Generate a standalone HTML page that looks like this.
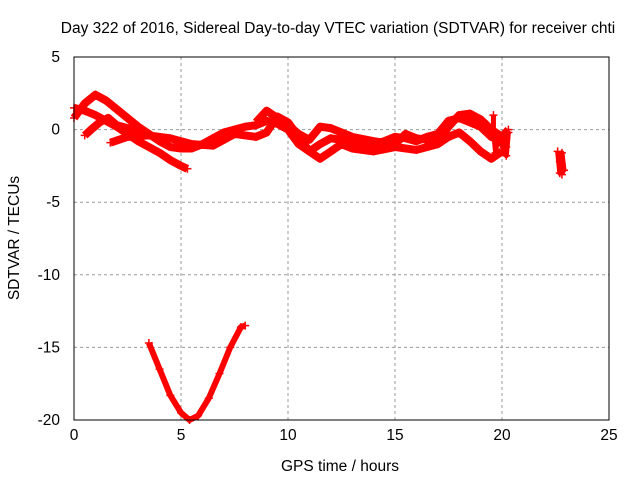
<!DOCTYPE html>
<html><head><meta charset="utf-8"><style>
body{margin:0;background:#fff;width:640px;height:480px;overflow:hidden}
text{font-family:"Liberation Sans",sans-serif;font-size:15.5px;fill:#000}
</style></head><body>
<svg id="chart" width="640" height="480" xmlns="http://www.w3.org/2000/svg">
<text x="338" y="33" text-anchor="middle">Day 322 of 2016, Sidereal Day-to-day VTEC variation (SDTVAR) for receiver chti</text>
<text x="340" y="471" text-anchor="middle">GPS time / hours</text>
<text transform="translate(19,238) rotate(-90)" text-anchor="middle">SDTVAR / TECUs</text>
<g id="grid"></g><g id="marks"></g>
<rect x="74" y="57" width="535" height="363" fill="none" stroke="#000" stroke-width="1"/>
</svg>
<script>
const xTicks=[0,5,10,15,20,25];
const yTicks=[5,0,-5,-10,-15,-20];
const trackDip=[[3.5,-14.7],[4,-16.5],[4.5,-18.3],[5,-19.5],[5.4,-20],[5.8,-19.7],[6.3,-18.5],[6.8,-16.8],[7.3,-15],[7.8,-13.6],[8,-13.5]];
const trackA=[[0,0.8],[0.5,1.8],[1,2.4],[1.5,2],[2,1.4],[2.5,0.8],[3,0.2],[3.5,-0.3],[4,-0.8],[4.5,-1.2],[5,-1.3],[5.5,-1.3],[6,-1.0],[6.5,-0.6],[7,-0.2],[7.5,0],[8,0.2],[8.5,0.3],[9,0.6],[9.5,0.4],[10,0],[10.5,-1],[11,-1.5],[11.5,-1],[12,-0.6],[12.5,-0.7],[13,-0.8],[13.5,-1],[14,-1],[14.5,-0.8],[15,-0.5],[15.5,-0.6],[16,-0.8],[16.5,-0.5],[17,-0.3],[17.5,0.6],[18,0.8],[18.5,0.5],[19,0.2],[19.5,-0.5],[20,-0.8],[20.2,-1.2]];
const trackB=[[0,1.5],[0.5,1.3],[1,1],[1.5,0.6],[2,0.2],[2.5,-0.3],[3,-0.8],[3.5,-1.2],[4,-1.6],[4.5,-2.1],[5,-2.5],[5.3,-2.7]];
const trackC=[[0.5,-0.4],[0.8,0],[1.2,0.5],[1.6,0.8],[2,0.3],[2.5,0.1],[3,-0.2]];
const trackD=[[1.7,-0.9],[2.5,-0.5],[3.5,-0.4],[4.5,-0.6],[5.5,-1],[6.5,-1.1],[7.5,-0.3],[8.5,-0.5],[9,-0.2],[9.5,0.9],[10,0.5],[10.5,-0.5],[11,-1.5],[11.5,-2],[12,-1.5],[12.5,-1],[13,-1.3],[14,-1.5],[15,-1.2],[16,-1.4],[17,-1],[17.5,-0.5],[18,-0.2],[18.5,-0.8],[19,-1.5],[19.5,-2],[20,-1.5]];
const trackE=[[8.5,0.5],[9,1.3],[9.5,0.8],[10,0.3],[10.5,-0.3],[11,-0.7],[11.5,0.2],[12,0.1],[12.5,-0.2],[13,-0.5],[14,-0.8],[15,-1.0],[15.5,-0.3],[16,-0.6],[17,-0.8],[17.5,0.2],[18,1],[18.5,1.1],[19,0.7],[19.5,0],[20,-0.5],[20.3,0]];
const trackF=[[19.6,1.0],[19.6,0],[19.7,-1.6],[19.8,-0.5],[20.2,-1.8],[20.3,-0.2]];
const trackG=[[22.6,-1.5],[22.7,-3],[22.8,-1.6],[22.9,-2.8],[22.7,-2.2],[22.8,-3.1]];
const tracks=[trackDip,trackA,trackB,trackC,trackD,trackE,trackF,trackG];
const X0=74,X1=609,Y0=420,Y1=57;
const sx=v=>X0+(v-0)/25*(X1-X0);
const sy=v=>Y0-(v+20)/25*(Y0-Y1);
const NS="http://www.w3.org/2000/svg";
const grid=document.getElementById('grid'),marks=document.getElementById('marks');
function mk(t,a,p){const e=document.createElementNS(NS,t);for(const k in a)e.setAttribute(k,a[k]);p.appendChild(e);return e;}
xTicks.forEach(t=>{const x=sx(t);
 if(t>0&&t<25){const l=mk('line',{x1:x,x2:x,y1:Y1,y2:Y0,stroke:'#999','stroke-dasharray':'3,3'},grid);
 
 }
 const tx=mk('text',{x:x,y:Y0+20,'text-anchor':'middle'},grid);tx.textContent=t;
 
 
});
yTicks.forEach(t=>{const y=sy(t);
 if(t>-20&&t<5){const l=mk('line',{x1:X0,x2:X1,y1:y,y2:y,stroke:'#999','stroke-dasharray':'3,3'},grid);
 
 }
 const tx=mk('text',{x:X0-14,y:y+5,'text-anchor':'end'},grid);tx.textContent=t;
 
 
});
tracks.forEach((tr,i)=>{
 const p=mk('polyline',{points:tr.map(d=>sx(d[0])+','+sy(d[1])).join(' '),fill:'none',stroke:'#f00','stroke-width':i===0?6:(i>=6?5:8),'stroke-linejoin':'round'},marks);
 
 
 tr.forEach(d=>{const x=sx(d[0]),y=sy(d[1]);
  const m=mk('path',{d:`M${x-4},${y}H${x+4}M${x},${y-4}V${y+4}`,stroke:'#f00','stroke-width':1.5},marks);
  
  
 });
});
</script>
</body></html>
